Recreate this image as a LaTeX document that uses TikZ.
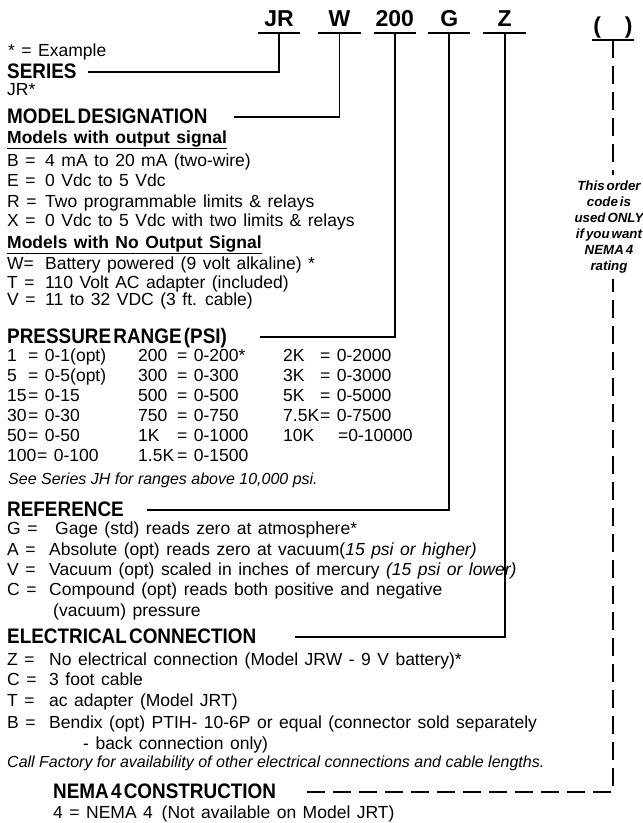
\documentclass[tikz,border=0pt]{standalone}
\usepackage{fontspec}
\usepackage{graphicx}
\setmainfont{Liberation Sans}
\usetikzlibrary{positioning}

\newcommand{\bodyfont}{\fontsize{17.5}{20}\selectfont\spaceskip=6.5pt\relax}
\newcommand{\headfont}{\fontsize{21}{22}\selectfont\bfseries\spaceskip=2.5pt\relax}
\newcommand{\notefont}{\fontsize{13.3}{16}\selectfont\bfseries\itshape\spaceskip=2pt\relax}
\newcommand{\narrow}[1]{\scalebox{0.9}[1]{#1}}

\begin{document}
\begin{tikzpicture}[x=1pt,y=-1pt,
	code/.style={font=\fontsize{23}{23}\selectfont\bfseries, inner sep=0pt, minimum width=42pt, text height=17pt, text depth=6pt},
	head/.style={font=\headfont, inner sep=0pt, anchor=west, text height=15pt, text depth=3pt},
	body/.style={font=\bodyfont, inner sep=0pt, anchor=base west},
	small/.style={font=\fontsize{16}{18}\selectfont\itshape, inner sep=0pt, anchor=base west},
	note/.style={font=\notefont, align=center, fill=white, inner xsep=1pt, inner ysep=6pt},
	rule/.style={line width=1.5pt},
	link/.style={line width=1.8pt},
	optlink/.style={line width=1.8pt, dash pattern=on 18pt off 8pt}]
	\useasboundingbox (0,0) rectangle (643,823);
	% order code
	\node[code, anchor=south] (c_jr) at (279,33) {JR};
	\node[code] [right=18pt of c_jr] (c_w) {W};
	\node[code] [right=13pt of c_w] (c_200) {200};
	\node[code] [right=12pt of c_200] (c_g) {G};
	\node[code] [right=13pt of c_g] (c_z) {Z};
	\node[code] [right=66pt of c_z, yshift=-7pt] (c_opt) {(\hspace{24pt})};
	\foreach \n in {c_jr,c_w,c_200,c_g,c_z,c_opt}
		\draw[rule] (\n.south west) -- (\n.south east);
	% headings
	\node[head] (series) at (7,72) {\narrow{SERIES}};
	\node[head] (model) at (7,117) {\narrow{MODEL DESIGNATION}};
	\node[head] (range) at (7,337) {\narrow{PRESSURE RANGE (PSI)}};
	\node[head] (refer) at (7,510) {\narrow{REFERENCE}};
	\node[head] (elec) at (7,637) {\narrow{ELECTRICAL CONNECTION}};
	\node[head] (nema) at (53,792) {\narrow{NEMA 4 CONSTRUCTION}};
	% leaders
	\draw[link, shorten >=11pt] (c_jr.south) |- (series.east);
	\draw[link, shorten >=26pt] (c_w.south) |- (model.east);
	\draw[link, shorten >=33pt] (c_200.south) |- (range.east);
	\draw[link, shorten >=23pt] (c_g.south) |- (refer.east);
	\draw[link, shorten >=39pt] (c_z.south) |- (elec.east);
	\draw[optlink, shorten >=23pt] (c_opt.south) |- (nema.east);
	\node[note] (optnote) at (609,227) {This order\\code is\\used ONLY\\if you want\\NEMA 4\\rating};
	% series
	\node[body] (example) at (8,56) {* = Example};
	\node[body] (jrstar) at (7,95) {JR*};
	% model designation
	\node[body, font=\bodyfont\bfseries] (sig) at (7,143) {\underline{Models with output signal}};
	\node[body, font=\bodyfont\bfseries] (nosig) at (7,248) {\underline{Models with No Output Signal}};
	\foreach \y/\k/\v in {166/B =/4 mA to 20 mA (two-wire), 186/E =/0 Vdc to 5 Vdc,
			207/R =/Two programmable limits \& relays, 226/X =/0 Vdc to 5 Vdc with two limits \& relays,
			269/W=/Battery powered (9 volt alkaline) *, 288/T =/110 Volt AC adapter (included),
			305/V =/11 to 32 VDC (3 ft. cable)} {
		\node[body] (mk\y) at (7,\y) {\k};
		\node[body] (mv\y) at (45,\y) {\v};
	}
	% pressure range
	\foreach \r/\k/\v/\ex in {0/1/= 0-1(opt)/28, 1/5/= 0-5(opt)/28, 2/15/= 0-15/28,
			3/30/= 0-30/28, 4/50/= 0-50/28, 5/100/= 0-100/37} {
		\node[body] (pa\r) at (7,361+20*\r) {\k};
		\node[body] (pav\r) at (\ex,361+20*\r) {\v};
	}
	\foreach \r/\k/\v in {0/200/0-200*, 1/300/0-300, 2/500/0-500, 3/750/0-750, 4/1K/0-1000, 5/1.5K/0-1500} {
		\node[body] (pb\r) at (138,361+20*\r) {\k};
		\node[body] (pbv\r) at (177,361+20*\r) {= \v};
	}
	\foreach \r/\k/\v/\ex in {0/2K/= 0-2000/320, 1/3K/= 0-3000/320, 2/5K/= 0-5000/320,
			3/7.5K/= 0-7500/320, 4/10K/=0-10000/338} {
		\node[body] (pc\r) at (283,361+20*\r) {\k};
		\node[body] (pcv\r) at (\ex,361+20*\r) {\v};
	}
	\node[small] (jh) at (8,484) {See Series JH for ranges above 10,000 psi.};
	% reference
	\foreach \y/\x/\k/\v in {534/55/G =/Gage (std) reads zero at atmosphere*,
			555/49/A =/Absolute (opt) reads zero at vacuum(\textit{15 psi or higher)},
			575/49/V =/Vacuum (opt) scaled in inches of mercury \textit{(15 psi or lower)},
			595/49/C =/Compound (opt) reads both positive and negative} {
		\node[body] (rk\y) at (7,\y) {\k};
		\node[body] (rv\y) at (\x,\y) {\v};
	}
	\node[body] (vac) at (53,616) {(vacuum) pressure};
	% electrical connection
	\foreach \y/\k/\v in {665/Z =/No electrical connection (Model JRW - 9 V battery)*,
			685/C =/3 foot cable, 706/T =/ac adapter (Model JRT),
			728/B =/Bendix (opt) PTIH- 10-6P or equal (connector sold separately} {
		\node[body] (ek\y) at (7,\y) {\k};
		\node[body] (ev\y) at (49,\y) {\v};
	}
	\node[body] (back) at (83,749) {- back connection only)};
	\node[small] (factory) at (7,767) {Call Factory for availability of other electrical connections and cable lengths.};
	% nema 4
	\node[body] (nemaval) at (53,818) {4 = NEMA 4\enspace (Not available on Model JRT)};
\end{tikzpicture}
\end{document}
